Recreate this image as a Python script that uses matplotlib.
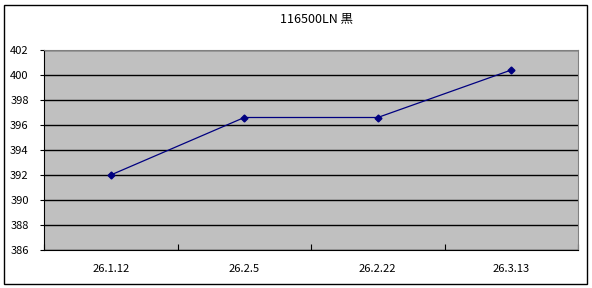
import matplotlib
matplotlib.use('Agg')
import matplotlib.pyplot as plt
from matplotlib.patches import Rectangle

plt.rcParams['font.family'] = ['Noto Sans CJK JP', 'DejaVu Sans']

dates = ['26.1.12', '26.2.5', '26.2.22', '26.3.13']
prices = [392.0, 396.6, 396.6, 400.4]
title = '116500LN 黒'

fig = plt.figure(figsize=(5.92, 2.88), dpi=100)
fig.patches.append(Rectangle((4 / 592, 4 / 288), 583 / 592, 279 / 288,
                             transform=fig.transFigure, fill=False,
                             edgecolor='black', linewidth=1))

ax = fig.add_axes([44 / 592, 38 / 288, 534 / 592, 200 / 288])
ax.set_facecolor('#c0c0c0')
x = [i + 0.5 for i in range(len(dates))]
ax.plot(x, prices, color='#000080', linewidth=0.9, marker='D', markersize=3.5)

ax.set_xlim(0, len(dates))
ax.set_ylim(386, 402)
ax.set_yticks(range(386, 403, 2))
ax.set_xticks(range(len(dates) + 1))
ax.set_xticklabels([])
ax.set_xticks(x, minor=True)
ax.set_xticklabels(dates, minor=True, fontsize=8)
ax.tick_params(axis='x', which='minor', length=0, pad=10)
ax.tick_params(axis='x', which='major', direction='in', length=4)
ax.tick_params(axis='y', direction='out', length=3, labelsize=8, pad=8)
ax.grid(axis='y', color='black', linewidth=1)
ax.set_axisbelow(True)
for side in ['top', 'right']:
    ax.spines[side].set_color('#808080')
ax.set_title(title, fontsize=9, pad=20, x=0.5 + 6 / 534)

fig.savefig('out.png', dpi=100)
